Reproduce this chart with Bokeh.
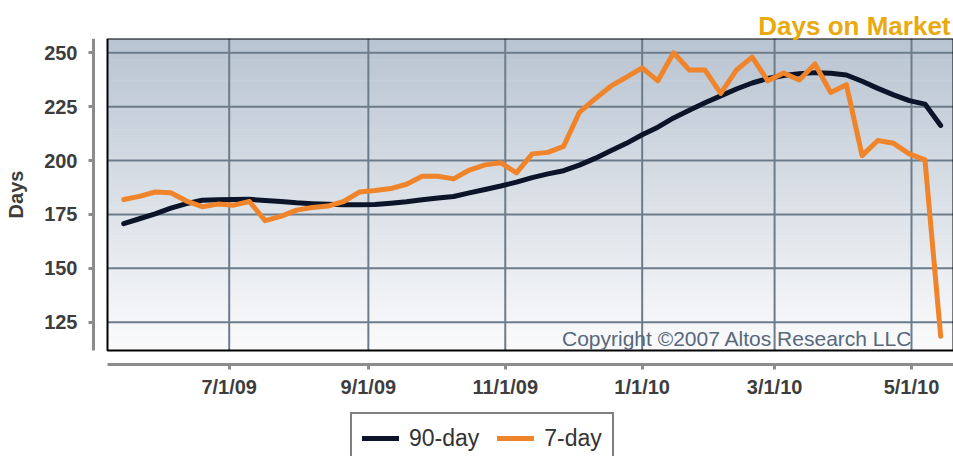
import numpy as np
import pandas as pd
from bokeh.plotting import figure
from bokeh.models import Range1d, FixedTicker, Label, ColumnDataSource, Legend, LegendItem
from bokeh.embed import file_html
from bokeh.resources import INLINE

# ---------------- data ----------------
week_dates = [
    "2009-05-15", "2009-05-22", "2009-05-29", "2009-06-05", "2009-06-12", "2009-06-19",
    "2009-06-26", "2009-07-03", "2009-07-10", "2009-07-17", "2009-07-24", "2009-07-31",
    "2009-08-07", "2009-08-14", "2009-08-21", "2009-08-28", "2009-09-04", "2009-09-11",
    "2009-09-18", "2009-09-25", "2009-10-02", "2009-10-09", "2009-10-16", "2009-10-23",
    "2009-10-30", "2009-11-06", "2009-11-13", "2009-11-20", "2009-11-27", "2009-12-04",
    "2009-12-11", "2009-12-18", "2009-12-25", "2010-01-01", "2010-01-08", "2010-01-15",
    "2010-01-22", "2010-01-29", "2010-02-05", "2010-02-12", "2010-02-19", "2010-02-26",
    "2010-03-05", "2010-03-12", "2010-03-19", "2010-03-26", "2010-04-02", "2010-04-09",
    "2010-04-16", "2010-04-23", "2010-04-30", "2010-05-07", "2010-05-14",
]

days_90 = [
    170.7, 173.0, 175.3, 177.9, 180.0, 181.6, 181.8, 181.9, 182.0, 181.5,
    181.0, 180.4, 180.0, 179.7, 179.5, 179.5, 179.6, 180.2, 180.9, 181.8,
    182.6, 183.3, 185.0, 186.6, 188.2, 190.0, 192.1, 193.8, 195.3, 197.9,
    201.0, 204.5, 208.0, 212.0, 215.5, 219.8, 223.3, 226.8, 230.0, 233.2,
    236.0, 238.1, 239.5, 240.3, 240.8, 240.5, 239.7, 236.8, 233.5, 230.5,
    227.8, 226.2, 216.3,
]

days_7 = [
    181.9, 183.4, 185.4, 185.1, 181.2, 178.6, 179.8, 179.3, 181.0, 172.1,
    174.1, 177.0, 178.2, 178.9, 181.0, 185.4, 186.1, 187.0, 189.0, 192.7,
    192.7, 191.5, 195.6, 198.0, 199.0, 194.3, 203.1, 203.8, 206.6, 222.4,
    228.6, 234.5, 238.7, 243.0, 237.0, 250.0, 242.0, 242.0, 231.2, 242.0,
    248.0, 237.0, 240.6, 237.4, 244.8, 231.6, 235.2, 202.3, 209.3, 208.0,
    203.1, 200.3, 118.5,
]

x_tick_dates = ["2009-07-01", "2009-09-01", "2009-11-01", "2010-01-01", "2010-03-01", "2010-05-01"]
x_tick_labels = ["7/1/09", "9/1/09", "11/1/09", "1/1/10", "3/1/10", "5/1/10"]
y_ticks = [125, 150, 175, 200, 225, 250]

series_names = ["90-day", "7-day"]
series_colors = ["#0b1429", "#f0842a"]

# ---------------- layout calibration (pixel -> data) ----------------
W, H = 953, 456
TOP = 38                       # top of plotting frame (title panel above)
PX_PER_DAY = 2.2444
X_REF_PX, X_REF = 228.7, pd.Timestamp("2009-07-01")
PX_PER_UNIT = 2.1552
Y_REF_PX, Y_REF = 52.3, 250.0


def x_at(px):
    return X_REF + pd.Timedelta(days=(px - X_REF_PX) / PX_PER_DAY)


def y_at(py):
    return Y_REF + (Y_REF_PX - py) / PX_PER_UNIT


def ms(ts):
    return pd.Timestamp(ts).value / 1e6


x_start, x_end = x_at(0), x_at(W)
x_inner, x_axis_pos = x_at(107), x_at(93)
y_start, y_end = y_at(H), y_at(TOP)
y_inner, y_axis_pos = y_at(350), y_at(364)

FONT = "Liberation Sans"
AXIS_GRAY = "#8c8c8c"
LABEL_GRAY = "#3d3d3d"

dates = pd.to_datetime(week_dates)

p = figure(
    width=W, height=H,
    x_axis_type="datetime",
    x_range=Range1d(x_start, x_end),
    y_range=Range1d(y_start, y_end),
    output_backend="svg",
    toolbar_location=None,
    title="Days on Market",
    min_border_left=0, min_border_right=0,
    min_border_top=TOP, min_border_bottom=0,
)
p.outline_line_color = None
p.background_fill_color = "white"
p.border_fill_color = "white"
p.xgrid.visible = False
p.ygrid.visible = False

p.title.align = "right"
p.title.offset = 3
p.title.standoff = -5
p.title.text_font = FONT
p.title.text_font_style = "bold"
p.title.text_font_size = "26px"
p.title.text_color = "#e9a90f"

# gradient background of the inner plot box (decoration)
n = 140
edges = np.linspace(y_inner, y_end, n + 1)
top_rgb = np.array([184, 196, 209])
bot_rgb = np.array([251, 251, 252])
cols = []
for k in range(n):
    t = (k + 0.5) / n
    c = bot_rgb + (top_rgb - bot_rgb) * t
    cols.append("#%02x%02x%02x" % tuple(int(round(v)) for v in c))
bg = ColumnDataSource(dict(
    left=[ms(x_inner)] * n, right=[ms(x_end)] * n,
    bottom=edges[:-1], top=np.minimum(edges[1:] + 0.3, y_end), color=cols,
))
p.quad(left="left", right="right", bottom="bottom", top="top", fill_color="color",
       line_color=None, source=bg)

# grid lines limited to the inner box
xt = [ms(d) for d in x_tick_dates]
p.segment(x0=xt, x1=xt, y0=[y_inner] * len(xt), y1=[y_end] * len(xt),
          line_color="#6d7c8b", line_width=2)
p.segment(x0=[ms(x_inner)] * len(y_ticks), x1=[ms(x_end)] * len(y_ticks),
          y0=y_ticks, y1=y_ticks, line_color="#6d7c8b", line_width=2)

# inner box border
p.quad(left=[ms(x_inner)], right=[ms(x_end)], bottom=[y_inner], top=[y_end],
       fill_color=None, line_color="black", line_width=2)

# data lines
r90 = p.line(dates, days_90, line_color=series_colors[0], line_width=5,
             line_join="round", line_cap="round")
r7 = p.line(dates, days_7, line_color=series_colors[1], line_width=5,
            line_join="round", line_cap="round")

# axes (offset from the inner box, placed at fixed positions)
xa = p.xaxis[0]
xa.fixed_location = y_axis_pos
xa.ticker = FixedTicker(ticks=xt)
xa.major_label_overrides = {t: lab for t, lab in zip(xt, x_tick_labels)}
xa.bounds = (ms(x_inner), ms(x_end))
ya = p.yaxis[0]
ya.fixed_location = ms(x_axis_pos)
ya.ticker = FixedTicker(ticks=y_ticks)
ya.bounds = (y_inner, y_end)
ya.axis_label = "Days"
ya.axis_label_standoff = 14
ya.axis_label_text_font = FONT
ya.axis_label_text_font_style = "bold"
ya.axis_label_text_font_size = "20px"
ya.axis_label_text_color = LABEL_GRAY
for ax in (xa, ya):
    ax.axis_line_color = AXIS_GRAY
    ax.axis_line_width = 3
    ax.major_tick_line_color = AXIS_GRAY
    ax.major_tick_line_width = 3
    ax.major_tick_in = 0
    ax.major_tick_out = 5
    ax.minor_tick_line_color = None
    ax.major_label_text_font = FONT
    ax.major_label_text_font_style = "bold"
    ax.major_label_text_font_size = "20px"
    ax.major_label_text_color = LABEL_GRAY
xa.major_label_standoff = 6
ya.major_label_standoff = 11

# legend (bottom edge runs past the canvas, as in the original)
lg = Legend(
    items=[LegendItem(label=series_names[0], renderers=[r90]),
           LegendItem(label=series_names[1], renderers=[r7])],
    orientation="horizontal",
    location=(350, -8),
    padding=10, spacing=18, margin=0,
    glyph_width=37, glyph_height=28, label_height=28, label_standoff=10,
    label_text_font=FONT, label_text_font_size="23px", label_text_color="#333333",
    border_line_color="black", border_line_width=2,
    background_fill_color="white", background_fill_alpha=1.0,
)
p.add_layout(lg, "center")

# copyright
p.add_layout(Label(x=912, y=H - 338, x_units="screen", y_units="screen",
                   text="Copyright \u00a92007 Altos Research LLC", text_align="right",
                   text_baseline="alphabetic", text_font=FONT, text_font_size="21px",
                   text_color="#56687c"))

open("out.html", "w").write(file_html(p, INLINE))
